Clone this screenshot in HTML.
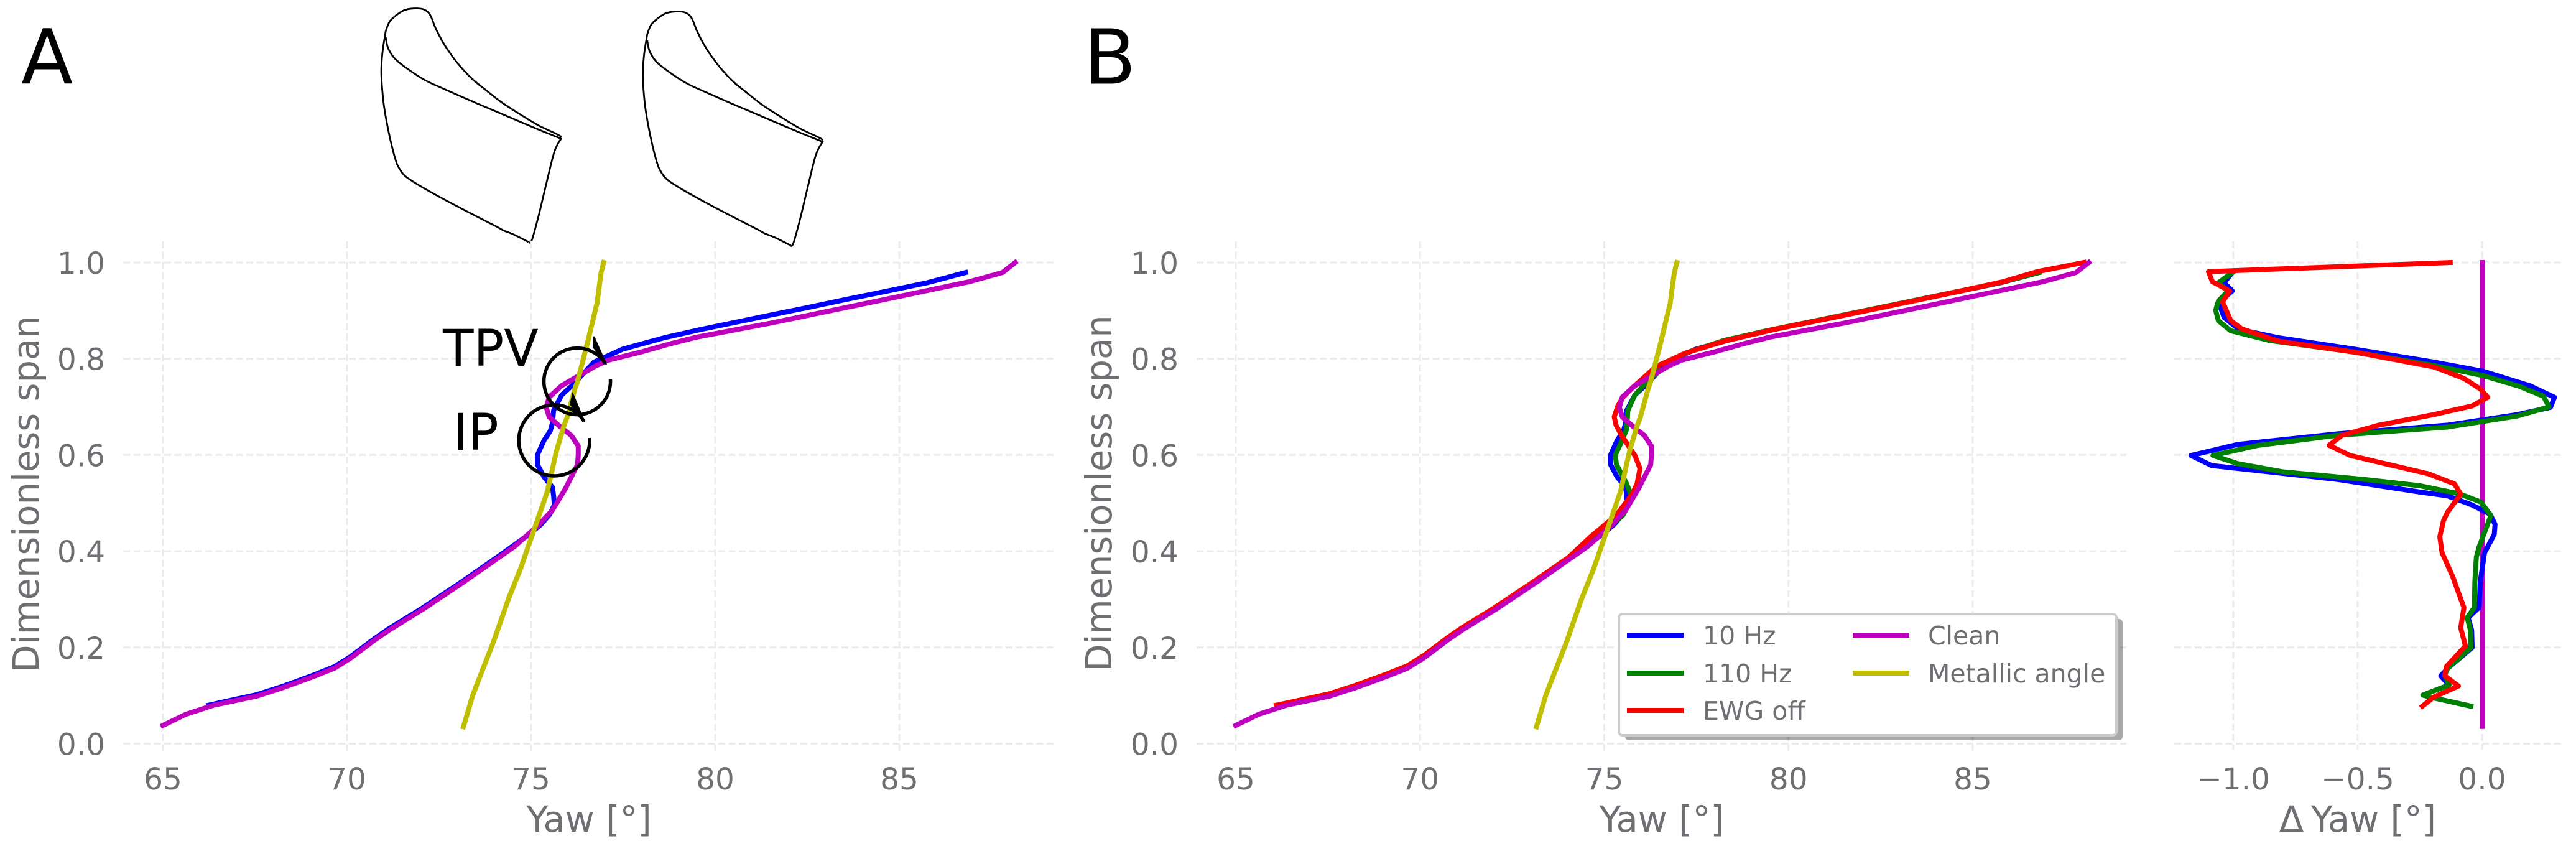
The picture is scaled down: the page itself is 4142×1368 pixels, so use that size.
<!DOCTYPE html>
<html lang="en">
<head>
<meta charset="utf-8">
<title>Yaw versus dimensionless span</title>
<style>
html,body{margin:0;padding:0;background:#fff;}
svg{display:block;}
text{font-family:"DejaVu Sans","Liberation Sans",sans-serif;}
</style>
</head>
<body>
<svg id="figure" xmlns="http://www.w3.org/2000/svg" width="4142" height="1368" viewBox="0 0 4142 1368">
  <rect x="0" y="0" width="4142" height="1368" fill="#ffffff"/>
  <text x="34" y="134.3" font-size="122" fill="#000">A</text>
  <text x="1743" y="134.3" font-size="122" fill="#000">B</text>
  <g id="blades"></g>
  <g id="panelA"></g>
  <g id="panelB"></g>
  <g id="panelC"></g>
  <g id="annotations">
    <text x="712" y="588" font-size="81" fill="#000">TPV</text>
    <text x="729" y="723" font-size="81" fill="#000">IP</text>
    <path d="M981.5 610 A53.5 53.5 0 1 1 973 584" fill="none" stroke="#000" stroke-width="5.5"/>
    <polygon points="955,541 975,586 954,558" fill="#000" stroke="#000" stroke-width="2"/>
    <path d="M948 704 A57 57 0 1 1 939 677" fill="none" stroke="#000" stroke-width="5.5"/>
    <polygon points="921,633 940,678 917,650" fill="#000" stroke="#000" stroke-width="2"/>
  </g>
  <g id="legend">
    <rect x="2613" y="995" width="800" height="195" rx="6" fill="#000" fill-opacity="0.34"/>
    <rect x="2603" y="987" width="800" height="195" rx="6" fill="#fff" stroke="#cccccc" stroke-width="4"/>
  </g>
</svg>
<script>
// ---- tick labels ----
const spanTicks = [0, 0.2, 0.4, 0.6, 0.8, 1.0];
const yawTicks = [65, 70, 75, 80, 85];
const deltaTicks = [-1.0, -0.5, 0.0];

// ---- legend ----
const legendLabels = ['10 Hz', '110 Hz', 'EWG off', 'Clean', 'Metallic angle'];

// ---- Clean ----
const cleanSpan = [0.038,0.061,0.080,0.099,0.116,0.139,0.157,0.178,0.216,0.236,0.278,0.331,0.382,0.410,0.4533,0.4854,0.5285,0.580,0.5997,0.6188,0.6406,0.658,0.6793,0.6988,0.7203,0.744,0.7737,0.785,0.797,0.815,0.8302,0.845,0.874,0.920,0.960,0.979,1.0];
const cleanYaw = [65.0,65.62,66.38,67.55,68.24,69.07,69.66,70.10,70.76,71.14,72.03,73.07,74.03,74.55,75.19,75.58,75.92,76.26,76.28,76.28,76.09,75.8,75.49,75.41,75.49,75.83,76.5,76.75,77.1,78.03,78.74,79.5,81.5,84.4,86.9,87.8,88.15];

// ---- 10 Hz ----
const hz10Span = [0.080,0.102,0.119,0.142,0.160,0.181,0.219,0.239,0.281,0.334,0.385,0.435,0.456,0.477,0.496,0.5157,0.533,0.5543,0.5803,0.600,0.6303,0.650,0.6664,0.6923,0.7246,0.7483,0.770,0.793,0.820,0.844,0.861,0.886,0.907,0.924,0.941,0.958,0.979];
const hz10Yaw = [66.24,67.55,68.24,69.07,69.66,70.10,70.76,71.14,72.03,73.07,74.03,74.95,75.27,75.51,75.63,75.61,75.58,75.35,75.17,75.17,75.35,75.52,75.58,75.61,75.83,76.17,76.43,76.71,77.49,78.63,79.62,81.2,82.55,83.6,84.7,85.76,86.8];

// ---- 110 Hz ----
const hz110Span = [0.081,0.103,0.120,0.143,0.161,0.182,0.220,0.240,0.282,0.335,0.386,0.409,0.474,0.502,0.519,0.5413,0.5803,0.600,0.6278,0.6535,0.6923,0.7246,0.7505,0.770,0.786,0.814,0.838,0.858,0.879,0.901,0.920,0.941,0.958,0.979];
const hz110Yaw = [66.24,67.55,68.24,69.07,69.66,70.10,70.76,71.14,72.03,73.07,74.03,74.45,75.5,75.7,75.72,75.6,75.33,75.30,75.47,75.61,75.64,75.83,76.14,76.43,76.46,77.29,78.25,79.4,80.74,82.13,83.34,84.68,85.74,86.8];

// ---- EWG off ----
const ewgSpan = [0.080,0.104,0.121,0.144,0.162,0.183,0.221,0.241,0.283,0.336,0.387,0.430,0.464,0.481,0.519,0.540,0.5721,0.5976,0.620,0.6407,0.662,0.6793,0.702,0.720,0.738,0.759,0.783,0.812,0.837,0.862,0.879,0.918,0.941,0.960,0.981,1.0];
const ewgYaw = [66.1,67.55,68.24,69.07,69.66,70.10,70.76,71.14,72.03,73.07,74.03,74.63,75.16,75.39,75.76,75.89,75.97,75.84,75.65,75.47,75.32,75.27,75.37,75.51,75.74,76.05,76.39,77.21,78.28,79.68,80.79,83.26,84.69,85.82,86.75,88.02];

// ---- Metallic angle ----
const metalSpan = [0.035,0.100,0.128,0.210,0.300,0.365,0.412,0.438,0.524,0.606,0.658,0.679,0.740,0.753,0.830,0.916,0.979,1.0];
const metalYaw = [73.16,73.41,73.55,73.97,74.38,74.72,74.93,75.05,75.44,75.68,75.88,75.98,76.2,76.26,76.52,76.79,76.9,76.97];

// ---- Delta yaw panel ----
const dClean = [0, 0];
const dCleanSpan = [0.036, 1.0];
const dHz10Span = [0.078,0.095,0.101,0.122,0.141,0.156,0.200,0.236,0.262,0.283,0.338,0.397,0.435,0.456,0.477,0.496,0.515,0.523,0.549,0.578,0.599,0.622,0.644,0.662,0.684,0.699,0.720,0.744,0.774,0.793,0.820,0.844,0.861,0.886,0.907,0.924,0.941,0.958,0.979];
const dHz10 = [-0.045,-0.194,-0.238,-0.133,-0.166,-0.139,-0.040,-0.042,-0.056,-0.012,-0.007,0.010,0.049,0.052,0.032,-0.040,-0.139,-0.249,-0.580,-1.087,-1.170,-0.982,-0.580,-0.139,0.142,0.275,0.291,0.192,0.004,-0.194,-0.514,-0.822,-0.977,-1.037,-1.052,-1.043,-1.004,-1.037,-1.004];
const dHz110Span = [0.078,0.095,0.101,0.122,0.143,0.156,0.200,0.236,0.262,0.283,0.338,0.388,0.409,0.474,0.502,0.519,0.536,0.549,0.565,0.582,0.599,0.620,0.641,0.658,0.681,0.700,0.722,0.743,0.765,0.786,0.814,0.838,0.858,0.879,0.901,0.920,0.941,0.958,0.979];
const dHz110 = [-0.045,-0.194,-0.238,-0.133,-0.150,-0.139,-0.045,-0.047,-0.060,-0.031,-0.029,-0.023,-0.012,0.035,-0.004,-0.089,-0.249,-0.470,-0.800,-0.982,-1.082,-0.900,-0.580,-0.139,0.142,0.269,0.247,0.148,0.004,-0.194,-0.514,-0.856,-1.010,-1.060,-1.071,-1.060,-1.021,-1.060,-1.004];
const dEwgSpan = [0.078,0.097,0.120,0.141,0.160,0.203,0.241,0.283,0.321,0.346,0.397,0.430,0.464,0.481,0.519,0.540,0.561,0.599,0.620,0.641,0.662,0.684,0.702,0.720,0.738,0.759,0.783,0.812,0.837,0.862,0.879,0.918,0.941,0.960,0.981,1.0];
const dEwg = [-0.240,-0.194,-0.095,-0.150,-0.144,-0.067,-0.086,-0.073,-0.100,-0.117,-0.161,-0.170,-0.155,-0.139,-0.086,-0.111,-0.216,-0.530,-0.615,-0.563,-0.415,-0.194,-0.040,0.023,-0.009,-0.073,-0.194,-0.492,-0.822,-0.966,-1.010,-1.043,-1.015,-1.084,-1.100,-0.128];

// ---- blade sketch outlines (sketch coordinates) ----
const bladeTopX = [118,130,150,175,205,235,252,262,275,295,320,350,390,430,480,540,600,655,672];
const bladeTopY = [150,105,75,50,41,44,60,85,135,195,255,315,380,430,490,550,605,645,660];
const bladeMidX = [118,125,145,185,240,300,400,500,600,670];
const bladeMidY = [180,230,280,330,385,428,495,560,625,668];
const bladeLeftX = [118,108,104,110,120,135,150,160,180,230,300,400,470,490,520,568];
const bladeLeftY = [150,250,350,480,580,690,775,810,850,900,960,1040,1095,1112,1130,1167];
const bladeRightX = [568,578,600,625,650,672];
const bladeRightY = [1167,1160,1040,880,730,665];

const NS = 'http://www.w3.org/2000/svg';
const INK = '#6e6f73';
const GRID = '#ebebeb';
const BLUE = '#0000ff', GREEN = '#008000', RED = '#ff0000', MAGENTA = '#bf00bf', OLIVE = '#bfbf00';

function yS(s) { return 1195.5 - 773.5 * s; }
function xA(v) { return 262 + (v - 65) * 59.2; }
function xB(v) { return 1987 + (v - 65) * 59.25; }
function xC(v) { return 3991 + v * 400; }

function make(tag, parent, name, attrs) {
  const el = document.createElementNS(NS, tag);
  
  
  for (const k in attrs) el.setAttribute(k, attrs[k]);
  parent.appendChild(el);
  return el;
}

function gridline(parent, name, x1, y1, x2, y2) {
  make('line', parent, name, { x1: x1, y1: y1, x2: x2, y2: y2, stroke: GRID, 'stroke-width': 3, 'stroke-dasharray': '11 5.5' });
}

function label(parent, name, x, y, size, anchor, str, rotate) {
  const t = make('text', parent, name, { x: x, y: y, 'font-size': size, 'text-anchor': anchor, fill: INK });
  if (rotate) t.setAttribute('transform', 'rotate(-90 ' + x + ' ' + y + ')');
  t.textContent = str;
  return t;
}

function series(parent, name, xs, ys, xFn, color) {
  const pts = xs.map(function (v, i) { return xFn(v).toFixed(1) + ',' + yS(ys[i]).toFixed(1); }).join(' ');
  make('polyline', parent, name, { points: pts, fill: 'none', stroke: color, 'stroke-width': 8, 'stroke-linejoin': 'round', 'stroke-linecap': 'square' });
}

function axes(parent, prefix, cfg) {
  spanTicks.forEach(function (s) {
    gridline(parent, prefix + '-hgrid-' + s, cfg.left, yS(s), cfg.right, yS(s));
    if (cfg.yLabelX) {
      label(parent, prefix + '-y-tick-' + s, cfg.yLabelX, yS(s) + 18, 48.5, 'end', s.toFixed(1));
    }
  });
  cfg.ticks.forEach(function (v) {
    gridline(parent, prefix + '-vgrid-' + v, cfg.xFn(v), 388, cfg.xFn(v), cfg.bottom);
    label(parent, prefix + '-x-tick-' + v, cfg.xFn(v), 1269, 48.5, 'middle', cfg.fmt(v));
  });
}

const panelA = document.getElementById('panelA');
axes(panelA, 'panel-a', { left: 198, right: 1697, bottom: 1210, yLabelX: 169, ticks: yawTicks, xFn: xA, fmt: String });
label(panelA, 'panel-a-y-axis-title', 62, 794, 57.5, 'middle', 'Dimensionless span', true);
label(panelA, 'panel-a-x-axis-title', 947, 1337, 57.5, 'middle', 'Yaw [°]');
series(panelA, 'panel-a-line-10hz', hz10Yaw, hz10Span, xA, BLUE);
series(panelA, 'panel-a-line-clean', cleanYaw, cleanSpan, xA, MAGENTA);
series(panelA, 'panel-a-line-metallic', metalYaw, metalSpan, xA, OLIVE);

const panelB = document.getElementById('panelB');
axes(panelB, 'panel-b', { left: 1924, right: 3419, bottom: 1210, yLabelX: 1895, ticks: yawTicks, xFn: xB, fmt: String });
label(panelB, 'panel-b-y-axis-title', 1787, 793, 57.5, 'middle', 'Dimensionless span', true);
label(panelB, 'panel-b-x-axis-title', 2672, 1337, 57.5, 'middle', 'Yaw [°]');
series(panelB, 'panel-b-line-10hz', hz10Yaw, hz10Span, xB, BLUE);
series(panelB, 'panel-b-line-110hz', hz110Yaw, hz110Span, xB, GREEN);
series(panelB, 'panel-b-line-ewg-off', ewgYaw, ewgSpan, xB, RED);
series(panelB, 'panel-b-line-clean', cleanYaw, cleanSpan, xB, MAGENTA);
series(panelB, 'panel-b-line-metallic', metalYaw, metalSpan, xB, OLIVE);

const panelC = document.getElementById('panelC');
axes(panelC, 'panel-c', { left: 3496, right: 4119, bottom: 1205, yLabelX: 0, ticks: deltaTicks, xFn: xC, fmt: function (v) { return v.toFixed(1).replace('-', '\u2212'); } });
label(panelC, 'panel-c-x-axis-title', 3791, 1337, 57.5, 'middle', '\u0394\u2009Yaw [°]');
series(panelC, 'panel-c-line-clean', dClean, dCleanSpan, xC, MAGENTA);
series(panelC, 'panel-c-line-10hz', dHz10, dHz10Span, xC, BLUE);
series(panelC, 'panel-c-line-110hz', dHz110, dHz110Span, xC, GREEN);
series(panelC, 'panel-c-line-ewg-off', dEwg, dEwgSpan, xC, RED);

// legend entries
const legend = document.getElementById('legend');
const legendColors = [BLUE, GREEN, RED, MAGENTA, OLIVE];
const legendSlots = [[2616, 2738, 1021], [2616, 2738, 1082], [2616, 2738, 1142], [2979, 3100, 1021], [2979, 3100, 1082]];
legendLabels.forEach(function (lab, i) {
  const slot = legendSlots[i];
  const key = lab.toLowerCase().replace(/\s+/g, '-');
  make('line', legend, 'legend-swatch-' + key, { x1: slot[0], y1: slot[2], x2: slot[0] + 91, y2: slot[2], stroke: legendColors[i], 'stroke-width': 8 });
  label(legend, 'legend-label-' + key, slot[1], slot[2] + 15, 41, 'start', lab);
});

// blade sketches
function smoothPath(xs, ys, dx, dy) {
  const p = xs.map(function (x, i) { return [560 + x / 1.96 + dx, ys[i] / 3 + dy]; });
  let d = 'M' + p[0][0].toFixed(1) + ' ' + p[0][1].toFixed(1);
  for (let i = 0; i < p.length - 1; i++) {
    const a = p[Math.max(i - 1, 0)], b = p[i], c = p[i + 1], e = p[Math.min(i + 2, p.length - 1)];
    d += ' C' + (b[0] + (c[0] - a[0]) / 6).toFixed(1) + ' ' + (b[1] + (c[1] - a[1]) / 6).toFixed(1) + ' ' +
      (c[0] - (e[0] - b[0]) / 6).toFixed(1) + ' ' + (c[1] - (e[1] - b[1]) / 6).toFixed(1) + ' ' +
      c[0].toFixed(1) + ' ' + c[1].toFixed(1);
  }
  return d;
}
const blades = document.getElementById('blades');
[[0, 0, 'left'], [420.5, 5, 'right']].forEach(function (b) {
  const d = [
    smoothPath(bladeTopX, bladeTopY, b[0], b[1]),
    smoothPath(bladeMidX, bladeMidY, b[0], b[1]),
    smoothPath(bladeLeftX, bladeLeftY, b[0], b[1]),
    smoothPath(bladeRightX, bladeRightY, b[0], b[1])
  ].join(' ');
  make('path', blades, 'blade-outline-' + b[2], { d: d, fill: 'none', stroke: '#000', 'stroke-width': 2.8, 'stroke-linejoin': 'round' });
});
</script>
</body>
</html>
